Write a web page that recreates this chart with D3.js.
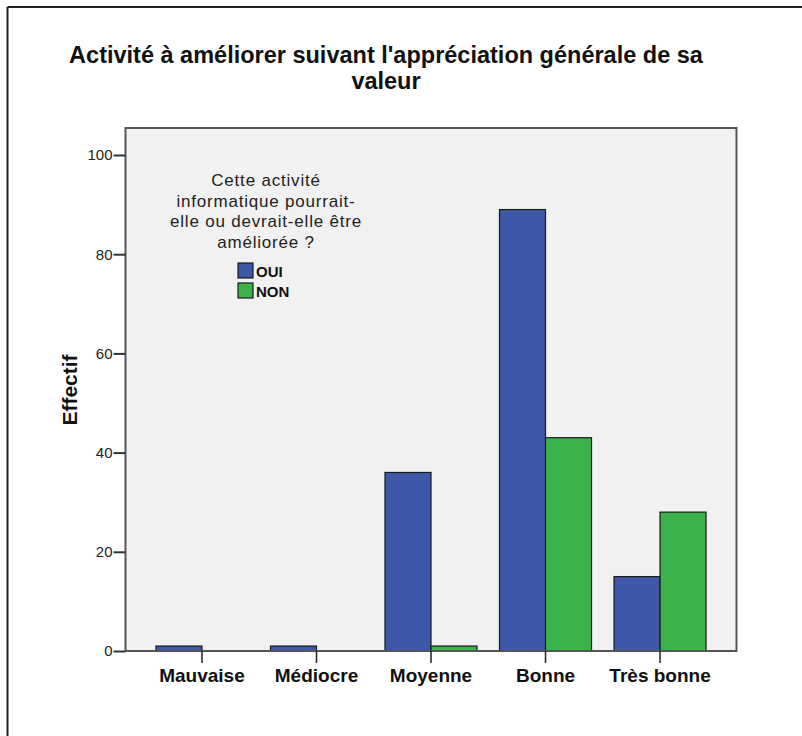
<!DOCTYPE html>
<html><head><meta charset="utf-8">
<script src="https://cdn.jsdelivr.net/npm/d3@7"></script>
<style>
html,body{margin:0;padding:0;background:#fff;}
svg{display:block;}
</style></head>
<body>
<script>
const categories = ["Mauvaise", "Médiocre", "Moyenne", "Bonne", "Très bonne"];
const seriesNames = ["OUI", "NON"];
const ouiValues = [1, 1, 36, 89, 15];
const nonValues = [0, 0, 1, 43, 28];
const yTicks = [0, 20, 40, 60, 80, 100];
const titleLines = ["Activité à améliorer suivant l'appréciation générale de sa", "valeur"];
const legendTitleLines = ["Cette activité", "informatique pourrait-", "elle ou devrait-elle être", "améliorée ?"];
const colors = {OUI: "#3d58a8", NON: "#3bb34a"};

const W = 802, H = 736;
const plot = {left: 125.5, right: 736.5, top: 128, bottom: 651};

const svg = d3.select("body").append("svg").attr("width", W).attr("height", H);

// outer border (top and left only visible)
svg.append("line").attr("x1", 7.5).attr("x2", W).attr("y1", 7).attr("y2", 7).attr("stroke", "#222").attr("stroke-width", 2);
svg.append("line").attr("x1", 7.5).attr("x2", 7.5).attr("y1", 7).attr("y2", H).attr("stroke", "#222").attr("stroke-width", 2);

// title
const titleFont = "'Liberation Sans', Arial, sans-serif";
const narrowFont = "'Liberation Sans Narrow', 'Arial Narrow', 'Liberation Sans', sans-serif";
svg.append("g").selectAll("text").data(titleLines).join("text")
  .attr("x", 386).attr("y", (d, i) => 63 + i * 26)
  .attr("text-anchor", "middle")
  .attr("font-family", titleFont).attr("font-weight", "bold").attr("font-size", 23.5)
  .attr("fill", "#111").text(d => d);

const data = categories.map((c, i) => ({cat: c, OUI: ouiValues[i], NON: nonValues[i]}));

const x = d3.scaleBand().domain(categories).range([plot.left, plot.right]).paddingInner(0.1965).paddingOuter(0.266);
const xs = d3.scaleBand().domain(seriesNames).range([0, x.bandwidth()]).padding(0);
const y = d3.scaleLinear().domain([0, (plot.bottom - plot.top) / 4.96]).range([plot.bottom, plot.top]);

// plot background
svg.append("rect").attr("x", plot.left).attr("y", plot.top)
  .attr("width", plot.right - plot.left).attr("height", plot.bottom - plot.top)
  .attr("fill", "#f0f1f0");

// bars
const g = svg.append("g");
g.selectAll("g").data(data).join("g")
  .attr("transform", d => `translate(${x(d.cat)},0)`)
  .selectAll("rect")
  .data(d => seriesNames.map(s => ({s, v: d[s]})).filter(e => e.v > 0))
  .join("rect")
  .attr("x", d => xs(d.s)).attr("width", xs.bandwidth())
  .attr("y", d => y(d.v)).attr("height", d => y(0) - y(d.v))
  .attr("fill", d => colors[d.s]).attr("stroke", "#1a1a1a").attr("stroke-width", 1.2);

// frame
svg.append("rect").attr("x", plot.left).attr("y", plot.top)
  .attr("width", plot.right - plot.left).attr("height", plot.bottom - plot.top)
  .attr("fill", "none").attr("stroke", "#555").attr("stroke-width", 2);

// y axis
const yAxis = svg.append("g").attr("transform", `translate(${plot.left},0)`)
  .call(d3.axisLeft(y).tickValues(yTicks).tickSize(12).tickPadding(1).tickFormat(d3.format("d")));
yAxis.select(".domain").remove();
yAxis.selectAll(".tick line").attr("stroke", "#333").attr("stroke-width", 2);
yAxis.selectAll(".tick text").attr("font-family", titleFont).attr("font-size", 15).attr("fill", "#222");

// x axis
const xAxis = svg.append("g").attr("transform", `translate(0,${plot.bottom})`)
  .call(d3.axisBottom(x).tickSize(12).tickPadding(6));
xAxis.select(".domain").remove();
xAxis.selectAll(".tick line").attr("stroke", "#222").attr("stroke-width", 1.5);
xAxis.selectAll(".tick text")
  .attr("font-family", narrowFont)
  .attr("font-weight", "bold").attr("font-size", 19).attr("fill", "#111");

// y axis title
svg.append("text").attr("transform", "translate(77,390) rotate(-90)")
  .attr("text-anchor", "middle")
  .attr("font-family", titleFont).attr("font-weight", "bold").attr("font-size", 21)
  .attr("fill", "#111").text("Effectif");

// legend
const lg = svg.append("g");
lg.selectAll("text.lt").data(legendTitleLines).join("text").attr("class", "lt")
  .attr("x", 266).attr("y", (d, i) => 186 + i * 20.7)
  .attr("text-anchor", "middle")
  .attr("font-family", titleFont).attr("font-size", 17).attr("letter-spacing", 0.8).attr("fill", "#222")
  .text(d => d);
const items = lg.selectAll("g.item").data(seriesNames).join("g").attr("class", "item")
  .attr("transform", (d, i) => `translate(238,${263 + i * 20})`);
items.append("rect").attr("width", 15).attr("height", 15)
  .attr("fill", d => colors[d]).attr("stroke", "#1a1a1a").attr("stroke-width", 1.2);
items.append("text").attr("x", 18).attr("y", 13.5)
  .attr("font-family", narrowFont)
  .attr("font-weight", "bold").attr("font-size", 15).attr("fill", "#111")
  .text(d => d);
</script>
</body></html>
